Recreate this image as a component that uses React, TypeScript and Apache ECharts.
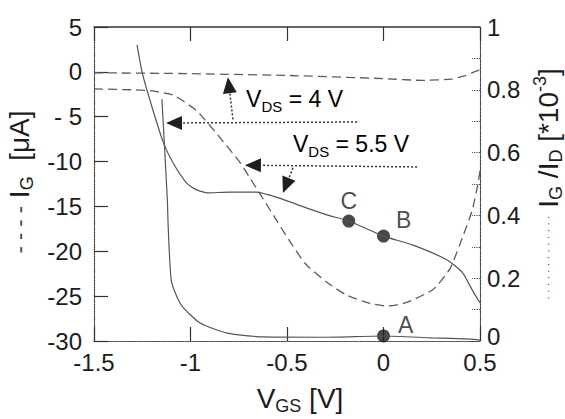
import React, { useEffect, useRef } from "react";
import * as echarts from "echarts";

// ---- Data ----
// Gate current I_G [µA], V_DS = 4 V (left axis)
const IG_4V_X = [-1.5, -1.0, -0.5, 0.0, 0.2, 0.35, 0.42, 0.47, 0.5];
const IG_4V_Y = [-0.1, -0.2, -0.4, -0.75, -0.95, -0.8, -0.45, 0.0, 0.25];

// Gate current I_G [µA], V_DS = 5.5 V (left axis)
const IG_55V_X = [-1.5, -1.3, -1.21, -1.09, -0.97, -0.86, -0.74, -0.69, -0.64, -0.55, -0.47, -0.4, -0.29, -0.19, -0.07, 0.02, 0.12, 0.26, 0.345, 0.41, 0.46, 0.49, 0.5];
const IG_55V_Y = [-1.9, -2.0, -2.1, -2.6, -4.3, -7.0, -10.2, -11.9, -13.6, -16.7, -19.4, -21.5, -23.5, -24.9, -25.8, -26.1, -25.7, -24.2, -21.9, -18.4, -15.4, -12.4, -11.0];

// Ratio I_G/I_D [*10^-3], V_DS = 4 V (right axis)
const R_4V_X = [-1.148, -1.12, -1.115, -1.1, -1.07, -1.04, -0.95, -0.81, -0.62, -0.3, 0.0, 0.25, 0.45, 0.5];
const R_4V_Y = [0.77, 0.449, 0.354, 0.194, 0.14, 0.108, 0.057, 0.025, 0.013, 0.012, 0.016, 0.01, 0.006, 0.003];

// Ratio I_G/I_D [*10^-3], V_DS = 5.5 V (right axis)
const R_55V_X = [-1.277, -1.25, -1.19, -1.14, -1.09, -1.02, -0.97, -0.91, -0.8, -0.66, -0.54, -0.4, -0.29, -0.18, 0.0, 0.15, 0.33, 0.41, 0.46, 0.5];
const R_55V_Y = [0.943, 0.854, 0.726, 0.631, 0.567, 0.503, 0.482, 0.472, 0.474, 0.474, 0.455, 0.424, 0.401, 0.382, 0.334, 0.306, 0.258, 0.217, 0.162, 0.121];

// Marked operating points (right axis)
const POINT_NAMES = ["A", "B", "C"];
const POINT_X = [0.0, 0.0, -0.18];
const POINT_Y = [0.016, 0.334, 0.382];

// Axis ticks
const X_TICKS = [-1.5, -1, -0.5, 0, 0.5];
const LEFT_TICKS = [5, 0, -5, -10, -15, -20, -25, -30];
const RIGHT_TICK_LABELS = ["0", "0.2", "0.4", "0.6", "0.8", "1"];

// Annotation arrows in left-axis data coordinates: [tailX, tailY, tipX, tipY]
const ARROWS = [
  [-0.78, -5.3, -0.806, -0.6],
  [-0.137, -5.59, -1.127, -5.7],
  [0.174, -10.6, -0.718, -10.4],
  [-0.469, -10.7, -0.521, -13.5],
];
const ANNOT_TEXTS = [
  { text: "{a|V}{s|DS}{a| = 4 V}", x: -0.712, y: -3.0 },
  { text: "{a|V}{s|DS}{a| = 5.5 V}", x: -0.469, y: -8.0 },
];

const zip = (xs: number[], ys: number[]) => xs.map((x, i) => [x, ys[i]]);

export default function App() {
  const ref = useRef<HTMLDivElement>(null);
  useEffect(() => {
    const chart = echarts.init(ref.current!, null, { renderer: "svg" });
    const font = "Liberation Sans";
    const txt = "#1c1c1c";
    const gray = "#5c5c5c";
    // rich styles for axis titles (large)
    const richT: any = {
      a: { fontSize: 28, fontFamily: font, color: txt, lineHeight: 34, verticalAlign: "middle" },
      s: { fontSize: 18, fontFamily: font, color: txt, lineHeight: 18, verticalAlign: "bottom" },
      sup: { fontSize: 18, fontFamily: font, color: txt, lineHeight: 18, verticalAlign: "top" },
      d: { fontSize: 22, fontFamily: font, color: "#444", lineHeight: 34, verticalAlign: "middle" },
      dot: { fontSize: 11, fontFamily: font, color: "#444", lineHeight: 34, verticalAlign: "middle" },
    };
    // rich styles for in-plot annotations
    const richA: any = {
      a: { fontSize: 23, fontFamily: font, color: txt, lineHeight: 30, verticalAlign: "middle" },
      s: { fontSize: 15, fontFamily: font, color: txt, lineHeight: 15, verticalAlign: "bottom" },
    };
    const labelStyle = { fontSize: 24, fontFamily: font, color: txt };
    const pointLabel: Record<string, any> = {
      A: { position: "right", distance: 8, offset: [0, -11] },
      B: { position: "right", distance: 6, offset: [0, -16] },
      C: { position: "top", distance: 2 },
    };

    const option: any = {
      animation: false,
      backgroundColor: "#ffffff",
      grid: { left: 94, right: 85, top: 27, bottom: 78, containLabel: false, outerBoundsMode: "none" },
      xAxis: [
        {
          type: "value",
          min: X_TICKS[0],
          max: X_TICKS[X_TICKS.length - 1],
          interval: 0.5,
          position: "bottom",
          axisLine: { show: true, onZero: false, lineStyle: { color: "#444", type: "dotted", width: 1.2 } },
          axisTick: { show: true, inside: true, length: 14, lineStyle: { color: "#333", width: 1.2 } },
          axisLabel: { ...labelStyle, margin: 9, formatter: (v: number) => String(v) },
          splitLine: { show: false },
          name: "{a|V}{s|GS}{a| [V]}",
          nameLocation: "middle",
          nameGap: 40,
          nameTextStyle: { rich: richT, padding: [0, 0, 0, 26] },
        },
        {
          type: "value",
          min: X_TICKS[0],
          max: X_TICKS[X_TICKS.length - 1],
          interval: 0.5,
          position: "top",
          axisLine: { show: true, onZero: false, lineStyle: { color: "#333", width: 1.5 } },
          axisTick: { show: true, inside: true, length: 14, lineStyle: { color: "#333", width: 1.2 } },
          axisLabel: { show: false },
          splitLine: { show: false },
        },
      ],
      yAxis: [
        {
          type: "value",
          min: LEFT_TICKS[LEFT_TICKS.length - 1],
          max: LEFT_TICKS[0],
          interval: 5,
          position: "left",
          axisLine: { show: true, onZero: false, lineStyle: { color: "#444", type: "dotted", width: 1.2 } },
          axisTick: { show: true, inside: true, length: 14, lineStyle: { color: "#333", width: 1.2 } },
          axisLabel: { ...labelStyle, margin: 12, formatter: (v: number) => (v === -5 ? "- 5" : String(v)) },
          splitLine: { show: false },
          name: "{d|- - - -}{a| I}{s|G}{a|  [μA]}",
          nameLocation: "middle",
          nameRotate: 90,
          nameGap: 52,
          nameTextStyle: { rich: richT, padding: [0, 0, 0, 4] },
        },
        {
          type: "value",
          min: 0,
          max: 1,
          interval: 0.1,
          position: "right",
          axisLine: { show: true, onZero: false, lineStyle: { color: "#444", type: "dotted", width: 1.2 } },
          axisTick: { show: true, inside: true, length: 8, lineStyle: { color: "#444", type: "dotted", width: 1.2 } },
          axisLabel: {
            ...labelStyle,
            margin: 7,
            formatter: (v: number) => {
              const k = Math.round(v * 10);
              if (k % 2 !== 0) return "";
              return k === 0 ? "{z|0}" : RIGHT_TICK_LABELS[k / 2];
            },
            rich: { z: { fontSize: 24, fontFamily: font, color: txt, padding: [0, 0, 10, 0] } },
          },
          splitLine: { show: false },
          name: "{dot|· · · · · · · · · · · · ·}{a| I}{s|G}{a| /I}{s|D}{a| [*10}{sup|-3}{a|]}",
          nameLocation: "middle",
          nameRotate: 90,
          nameGap: 50,
          nameTextStyle: { rich: richT },
        },
      ],
      series: [
        {
          type: "line",
          name: "IG 4V",
          xAxisIndex: 0,
          yAxisIndex: 0,
          data: zip(IG_4V_X, IG_4V_Y),
          showSymbol: false,
          smooth: 0.2,
          lineStyle: { color: gray, width: 1.3, type: [9, 5] },
        },
        {
          type: "line",
          name: "IG 5.5V",
          xAxisIndex: 0,
          yAxisIndex: 0,
          data: zip(IG_55V_X, IG_55V_Y),
          showSymbol: false,
          smooth: 0.2,
          lineStyle: { color: gray, width: 1.3, type: [9, 5] },
        },
        {
          type: "line",
          name: "ratio 4V",
          xAxisIndex: 0,
          yAxisIndex: 1,
          data: zip(R_4V_X, R_4V_Y),
          showSymbol: false,
          smooth: 0.2,
          lineStyle: { color: "#555", width: 1.2 },
        },
        {
          type: "line",
          name: "ratio 5.5V",
          xAxisIndex: 0,
          yAxisIndex: 1,
          data: zip(R_55V_X, R_55V_Y),
          showSymbol: false,
          smooth: 0.2,
          lineStyle: { color: "#555", width: 1.2 },
        },
        {
          type: "scatter",
          name: "points",
          xAxisIndex: 0,
          yAxisIndex: 1,
          symbolSize: 13,
          itemStyle: { color: "#1a1a1a" },
          data: POINT_NAMES.map((n, i) => ({
            name: n,
            value: [POINT_X[i], POINT_Y[i]],
            label: { show: true, formatter: "{b}", ...labelStyle, fontSize: 23, ...pointLabel[n] },
          })),
        },
      ],
    };
    chart.setOption(option);

    const toPx = (x: number, y: number) =>
      chart.convertToPixel({ xAxisIndex: 0, yAxisIndex: 0 }, [x, y]) as number[];
    const graphics: any[] = [];
    ARROWS.forEach(([tx, ty, hx, hy]) => {
      const t = toPx(tx, ty);
      const h = toPx(hx, hy);
      const dx = t[0] - h[0];
      const dy = t[1] - h[1];
      const len = Math.hypot(dx, dy) || 1;
      const ux = dx / len;
      const uy = dy / len;
      const L = 16;
      const W = 7;
      const bx = h[0] + ux * L;
      const by = h[1] + uy * L;
      graphics.push({
        type: "line",
        shape: { x1: t[0], y1: t[1], x2: bx, y2: by },
        style: { stroke: "#333", lineWidth: 1.5, lineDash: [2, 2] },
        silent: true,
      });
      graphics.push({
        type: "polygon",
        shape: {
          points: [
            [h[0], h[1]],
            [bx - uy * W, by + ux * W],
            [bx + uy * W, by - ux * W],
          ],
        },
        style: { fill: "#1e1e1e" },
        silent: true,
      });
    });
    ANNOT_TEXTS.forEach((a) => {
      const p = toPx(a.x, a.y);
      graphics.push({
        type: "text",
        x: p[0],
        y: p[1],
        style: { text: a.text, rich: richA, align: "left", verticalAlign: "middle" },
        silent: true,
      });
    });
    chart.setOption({ graphic: graphics });

    return () => chart.dispose();
  }, []);
  return <div ref={ref} style={{ position: "fixed", left: 0, top: 0, width: 565, height: 419, background: "#fff" }} />;
}
